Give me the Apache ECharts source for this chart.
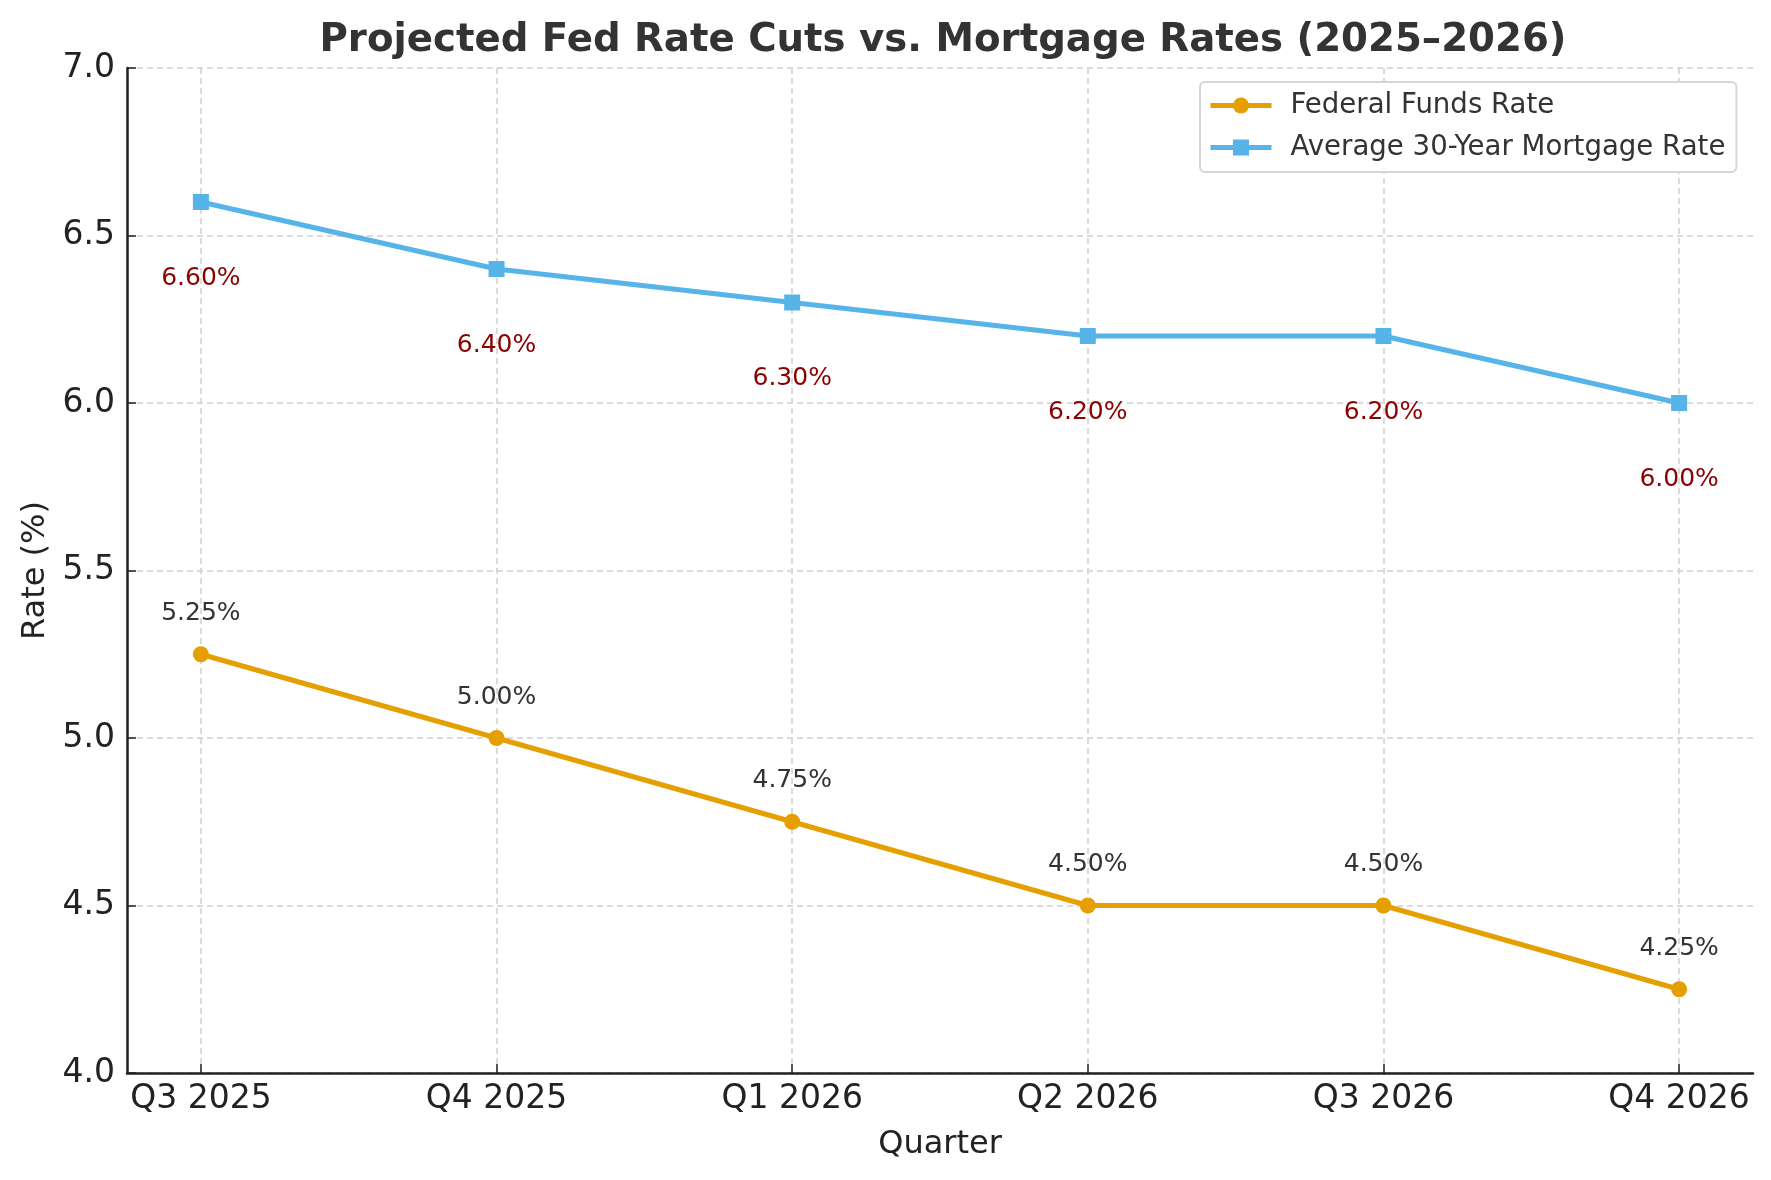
<!DOCTYPE html>
<html>
<head>
<meta charset="utf-8">
<script src="https://cdn.jsdelivr.net/npm/echarts@6/dist/echarts.min.js"></script>
<style>
html,body{margin:0;padding:0;background:#fff;}
#chart{width:1771px;height:1180px;}
</style>
</head>
<body>
<div id="chart"></div>
<script>
const quarters = ['Q3 2025','Q4 2025','Q1 2026','Q2 2026','Q3 2026','Q4 2026'];
const fedFunds = [5.25, 5.00, 4.75, 4.50, 4.50, 4.25];
const mortgage = [6.60, 6.40, 6.30, 6.20, 6.20, 6.00];
const yTicks = [4.0, 4.5, 5.0, 5.5, 6.0, 6.5, 7.0];

const FONT = 'DejaVu Sans';
const idx = quarters.map((q, i) => i);
const chart = echarts.init(document.getElementById('chart'), null, {renderer: 'canvas'});

chart.setOption({
  backgroundColor: '#ffffff',
  animation: false,
  title: {
    text: 'Projected Fed Rate Cuts vs. Mortgage Rates (2025\u20132026)',
    left: 938, top: 16, textAlign: 'center',
    textStyle: {fontFamily: FONT, fontWeight: 'bold', fontSize: 38.7, color: '#333333'}
  },
  legend: {
    orient: 'vertical',
    left: 1200, top: 82,
    padding: [8, 11, 9, 8],
    itemWidth: 61, itemHeight: 20, itemGap: 11,
    backgroundColor: '#ffffff',
    borderColor: '#d6d6d6', borderWidth: 2, borderRadius: 5,
    lineStyle: {width: 5},
    textStyle: {fontFamily: FONT, fontSize: 27.6, color: '#333333', padding: [0, 0, 0, 14], lineHeight: 31},
    data: ['Federal Funds Rate', 'Average 30-Year Mortgage Rate']
  },
  grid: {left: 127, right: 18, top: 68, bottom: 107, containLabel: false},
  xAxis: {
    type: 'value', min: -0.25, max: 5.25,
    name: 'Quarter', nameLocation: 'middle', nameGap: 56,
    nameTextStyle: {fontFamily: FONT, fontSize: 32, color: '#222222'},
    axisLine: {show: true, onZero: false, lineStyle: {color: '#222222', width: 2.5}},
    axisTick: {show: true, inside: true, length: 9, customValues: idx, lineStyle: {color: '#222222', width: 1.5}},
    axisLabel: {customValues: idx, margin: 10, fontFamily: FONT, fontSize: 33, color: '#222222',
      formatter: v => quarters[Math.round(v)]},
    splitLine: {show: true, lineStyle: {color: '#d0d0d0', width: 1.5, type: [6, 4]}}
  },
  yAxis: {
    type: 'value', min: 4, max: 7, interval: 0.5,
    name: 'Rate (%)', nameLocation: 'middle', nameGap: 75, nameRotate: 90,
    nameTextStyle: {fontFamily: FONT, fontSize: 32, color: '#222222'},
    axisLine: {show: true, onZero: false, lineStyle: {color: '#222222', width: 2.5}},
    axisTick: {show: true, inside: true, length: 9, lineStyle: {color: '#222222', width: 1.5}},
    axisLabel: {margin: 12, fontFamily: FONT, fontSize: 33, color: '#222222',
      customValues: yTicks, formatter: v => v.toFixed(1)},
    splitLine: {show: true, lineStyle: {color: '#d0d0d0', width: 1.5, type: [6, 4]}}
  },
  series: [
    {
      name: 'Federal Funds Rate', type: 'line',
      data: fedFunds.map((v, i) => [i, v]),
      symbol: 'circle', symbolSize: 16,
      lineStyle: {color: '#E69F00', width: 5},
      itemStyle: {color: '#E69F00'},
      label: {show: true, position: 'inside', offset: [0, -41],
        fontFamily: FONT, fontSize: 25, color: '#333333',
        formatter: p => p.value[1].toFixed(2) + '%'},
      z: 3
    },
    {
      name: 'Average 30-Year Mortgage Rate', type: 'line',
      data: mortgage.map((v, i) => [i, v]),
      symbol: 'rect', symbolSize: 16,
      lineStyle: {color: '#56B4E9', width: 5},
      itemStyle: {color: '#56B4E9'},
      label: {show: true, position: 'inside', offset: [0, 76],
        fontFamily: FONT, fontSize: 25, color: '#8B0000',
        formatter: p => p.value[1].toFixed(2) + '%'},
      z: 3
    }
  ]
});
</script>
</body>
</html>
